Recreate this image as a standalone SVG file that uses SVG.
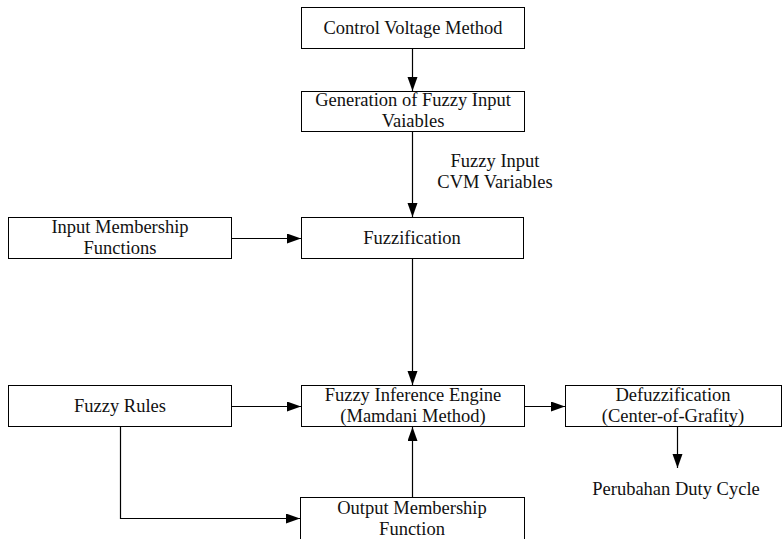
<svg xmlns="http://www.w3.org/2000/svg" width="782" height="539" viewBox="0 0 782 539">
  <style>
    .box { fill: #ffffff; stroke: #000000; stroke-width: 1; }
    .lbl { font-family: "Liberation Serif", "Times New Roman", serif; font-size: 18.5px; fill: #111111; text-anchor: middle; }
    .wire { fill: none; stroke: #000000; stroke-width: 1.2; }
  </style>
  <defs>
    <marker id="head" markerUnits="userSpaceOnUse" markerWidth="15" markerHeight="11" refX="14" refY="5" orient="auto">
      <path d="M0,0 L14,5 L0,10 Z" fill="#000000"/>
    </marker>
  </defs>
  <rect width="782" height="539" fill="#ffffff"/>

  <g id="connectors">
    <path class="wire" d="M412.5,49 V91" marker-end="url(#head)"/>
    <path class="wire" d="M412.5,132 V217" marker-end="url(#head)"/>
    <path class="wire" d="M231,238.5 H301" marker-end="url(#head)"/>
    <path class="wire" d="M412.5,259 V385" marker-end="url(#head)"/>
    <path class="wire" d="M231,406.5 H301" marker-end="url(#head)"/>
    <path class="wire" d="M524,406.5 H565" marker-end="url(#head)"/>
    <path class="wire" d="M677.5,427 V468" marker-end="url(#head)"/>
    <path class="wire" d="M120.5,427 V518.5 H300" marker-end="url(#head)"/>
    <path class="wire" d="M412.5,497 V427" marker-end="url(#head)"/>
    <text class="lbl" x="495" y="167">Fuzzy Input</text>
    <text class="lbl" x="495" y="188">CVM Variables</text>
    <text class="lbl" x="676" y="495">Perubahan Duty Cycle</text>
  </g>

  <g id="control-voltage-method">
    <rect class="box" x="301.5" y="7.5" width="223" height="41"/>
    <text class="lbl" x="413" y="34">Control Voltage Method</text>
  </g>

  <g id="generation">
    <rect class="box" x="301.5" y="91.5" width="223" height="40"/>
    <text class="lbl" x="413" y="106">Generation of Fuzzy Input</text>
    <text class="lbl" x="413" y="127">Vaiables</text>
  </g>

  <g id="input-membership">
    <rect class="box" x="8.5" y="217.5" width="223" height="41"/>
    <text class="lbl" x="120" y="233">Input Membership</text>
    <text class="lbl" x="120" y="254">Functions</text>
  </g>

  <g id="fuzzification">
    <rect class="box" x="301.5" y="217.5" width="222" height="41"/>
    <text class="lbl" x="412" y="244">Fuzzification</text>
  </g>

  <g id="fuzzy-rules">
    <rect class="box" x="8.5" y="385.5" width="223" height="41"/>
    <text class="lbl" x="120" y="412">Fuzzy Rules</text>
  </g>

  <g id="inference-engine">
    <rect class="box" x="301.5" y="385.5" width="223" height="41"/>
    <text class="lbl" x="413" y="401">Fuzzy Inference Engine</text>
    <text class="lbl" x="413" y="422">(Mamdani Method)</text>
  </g>

  <g id="defuzzification">
    <rect class="box" x="565.5" y="385.5" width="216" height="41"/>
    <text class="lbl" x="673" y="401">Defuzzification</text>
    <text class="lbl" x="673" y="422">(Center-of-Grafity)</text>
  </g>

  <g id="output-membership">
    <rect class="box" x="300.5" y="497.5" width="224" height="45"/>
    <text class="lbl" x="412" y="514">Output Membership</text>
    <text class="lbl" x="412" y="535">Function</text>
  </g>
</svg>
